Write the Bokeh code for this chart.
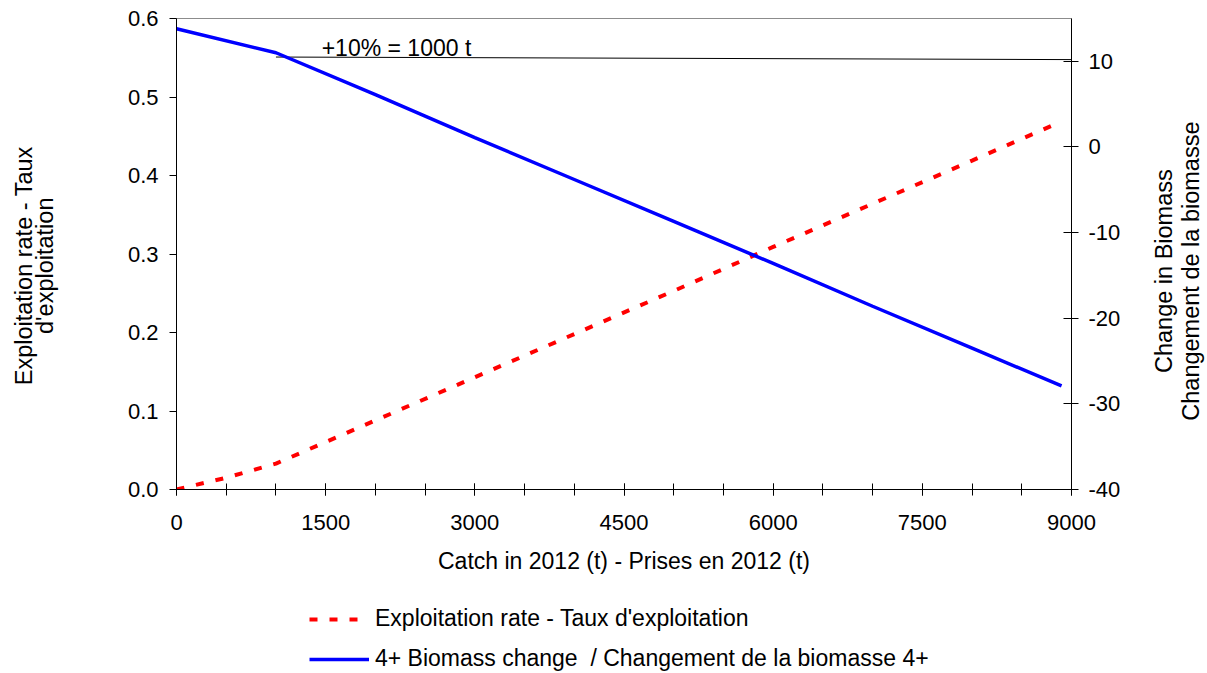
from bokeh.plotting import figure
from bokeh.layouts import column, row
from bokeh.models import Range1d, LinearAxis, FixedTicker, Legend, LegendItem, Label
from bokeh.embed import file_html
from bokeh.resources import INLINE
import math

# ---- data ----
catch = [0, 500, 1000, 2000, 3000, 4000, 5000, 6000, 7000, 8000, 8850]
exploitation_rate = [0.0, 0.015, 0.033, 0.088, 0.143, 0.198, 0.253, 0.309, 0.364, 0.419, 0.466]
catch_bio = [0, 1000, 2000, 3000, 4000, 5000, 6000, 7000, 8000, 8900]
biomass_change = [13.8, 11.0, 6.1, 1.1, -3.8, -8.7, -13.6, -18.6, -23.5, -27.9]
ref_x = [1000, 9000]
ref_y = [10.5, 10.2]
ref_label = "+10% = 1000 t"

x_ticks = [0, 1500, 3000, 4500, 6000, 7500, 9000]
x_minor = [0, 500, 1000, 1500, 2000, 2500, 3000, 3500, 4000, 4500, 5000, 5500, 6000,
           6500, 7000, 7500, 8000, 8500, 9000]
left_ticks = [0.0, 0.1, 0.2, 0.3, 0.4, 0.5, 0.6]
left_labels = ["0.0", "0.1", "0.2", "0.3", "0.4", "0.5", "0.6"]
right_ticks = [-40, -30, -20, -10, 0, 10]
right_labels = ["-40", "-30", "-20", "-10", "0", "10"]
left_title = ["Exploitation rate - Taux", "d'exploitation"]
right_title = ["Change in Biomass", "Changement de la biomasse"]
x_title = "Catch in 2012 (t) - Prises en 2012 (t)"
legend_labels = ["Exploitation rate - Taux d'exploitation",
                 "4+ Biomass change  / Changement de la biomasse 4+"]

FONT = "Liberation Sans"
FS_TICK = "22px"
FS = "23px"
FS_ROT = "23.5px"
RED = "#ff0000"
BLUE = "#0000ff"

W_LEFT = 60
W_MAIN = 1130 - W_LEFT
W_SIDE = 75
H_MAIN = 580
H_LEG = 93
FRAME_TOP = 18
FRAME_BOTTOM = 489
FRAME_LEFT = 176
FRAME_RIGHT = 1071

p = figure(width=W_MAIN, height=H_MAIN, output_backend="svg", toolbar_location=None,
           x_range=Range1d(0, 9000), y_range=Range1d(0, 0.6),
           min_border_left=FRAME_LEFT - W_LEFT, min_border_right=W_LEFT + W_MAIN - FRAME_RIGHT,
           min_border_top=FRAME_TOP, min_border_bottom=H_MAIN - FRAME_BOTTOM)
p.extra_y_ranges = {"bio": Range1d(-40, 15)}
p.grid.visible = False
p.outline_line_color = "#8c8c8c"
p.outline_line_width = 1
p.background_fill_color = "white"
p.border_fill_color = "white"

# bottom axis
xa = p.xaxis[0]
xa.ticker = FixedTicker(ticks=x_ticks, minor_ticks=x_minor)
xa.major_tick_in = 6
xa.major_tick_out = 6
xa.minor_tick_in = 6
xa.minor_tick_out = 6
xa.axis_line_color = "black"
xa.major_tick_line_color = "black"
xa.minor_tick_line_color = "black"
xa.major_label_text_font = FONT
xa.major_label_text_font_size = FS_TICK
xa.major_label_text_color = "black"
xa.major_label_standoff = 19
xa.axis_label = x_title
xa.axis_label_text_font = FONT
xa.axis_label_text_font_size = FS
xa.axis_label_text_font_style = "normal"
xa.axis_label_text_color = "black"
xa.axis_label_standoff = 15

# left axis
ya = p.yaxis[0]
ya.ticker = FixedTicker(ticks=left_ticks, minor_ticks=[])
ya.major_label_overrides = {t: l for t, l in zip(left_ticks, left_labels)}
ya.major_tick_in = 0
ya.major_tick_out = 7
ya.minor_tick_line_color = None
ya.axis_line_color = "black"
ya.major_tick_line_color = "black"
ya.major_label_text_font = FONT
ya.major_label_text_font_size = FS_TICK
ya.major_label_text_color = "black"
ya.major_label_standoff = 11

# right axis
ra = LinearAxis(y_range_name="bio")
ra.ticker = FixedTicker(ticks=right_ticks, minor_ticks=[])
ra.major_label_overrides = {t: l for t, l in zip(right_ticks, right_labels)}
ra.major_tick_in = 8
ra.major_tick_out = 7
ra.minor_tick_line_color = None
ra.axis_line_color = "black"
ra.major_tick_line_color = "black"
ra.major_label_text_font = FONT
ra.major_label_text_font_size = FS_TICK
ra.major_label_text_color = "black"
ra.major_label_standoff = 10
p.add_layout(ra, "right")

# lines
p.line(ref_x, ref_y, y_range_name="bio", line_color="black", line_width=1)
p.line(catch, exploitation_rate, line_color=RED, line_width=4, line_dash="8 12")
p.line(catch_bio, biomass_change, y_range_name="bio", line_color=BLUE, line_width=3.5)

p.add_layout(Label(x=1460, y=11.6, y_range_name="bio", text=ref_label,
                   text_font=FONT, text_font_size=FS, text_color="black",
                   text_baseline="alphabetic"))


def side_fig(width, y0, y1):
    f = figure(width=width, height=H_MAIN, output_backend="svg", toolbar_location=None,
               x_range=Range1d(0, width), y_range=Range1d(y0, y1),
               min_border_left=0, min_border_right=0,
               min_border_top=FRAME_TOP, min_border_bottom=H_MAIN - FRAME_BOTTOM)
    f.axis.visible = False
    f.grid.visible = False
    f.outline_line_color = None
    f.background_fill_color = "white"
    f.border_fill_color = "white"
    return f


# left-hand title
lt = side_fig(W_LEFT, 0, 0.6)
for txt, xpos in zip(left_title, [23, 44]):
    lt.add_layout(Label(x=xpos, y=0.285, text=txt, angle=math.pi / 2,
                        text_font=FONT, text_font_size=FS_ROT, text_color="black",
                        text_align="center", text_baseline="middle"))

# right-hand title
tf = side_fig(W_SIDE, -40, 15)
for txt, xpos in zip(right_title, [33, 60]):
    tf.add_layout(Label(x=xpos, y=-14.5, text=txt, angle=math.pi / 2,
                        text_font=FONT, text_font_size=FS_ROT, text_color="black",
                        text_align="center", text_baseline="middle"))

# legend figure below
lf = figure(width=W_MAIN, height=H_LEG, output_backend="svg", toolbar_location=None,
            x_range=Range1d(-2, -1), y_range=Range1d(-2, -1),
            min_border_left=0, min_border_right=0,
            min_border_top=0, min_border_bottom=0)
lf.axis.visible = False
lf.grid.visible = False
lf.outline_line_color = None
lf.background_fill_color = "white"
lf.border_fill_color = "white"
lr_red = lf.line(catch, exploitation_rate, line_color=RED, line_width=4, line_dash="8 12")
lr_blue = lf.line(catch_bio, biomass_change, line_color=BLUE, line_width=3.5)
legend = Legend(items=[
    LegendItem(label=legend_labels[0], renderers=[lr_red]),
    LegendItem(label=legend_labels[1], renderers=[lr_blue]),
], location=(133, 1), orientation="vertical")
legend.label_text_font = FONT
legend.label_text_font_size = FS
legend.label_text_color = "black"
legend.glyph_width = 60
legend.glyph_height = 24
legend.label_height = 24
legend.label_standoff = 6
legend.spacing = 13
legend.border_line_color = None
legend.background_fill_alpha = 0
legend.padding = 0
legend.margin = 0
lf.add_layout(legend, "center")

layout = row(lt, column(p, lf, spacing=0), tf, spacing=0)
open("out.html", "w").write(file_html(layout, INLINE))
